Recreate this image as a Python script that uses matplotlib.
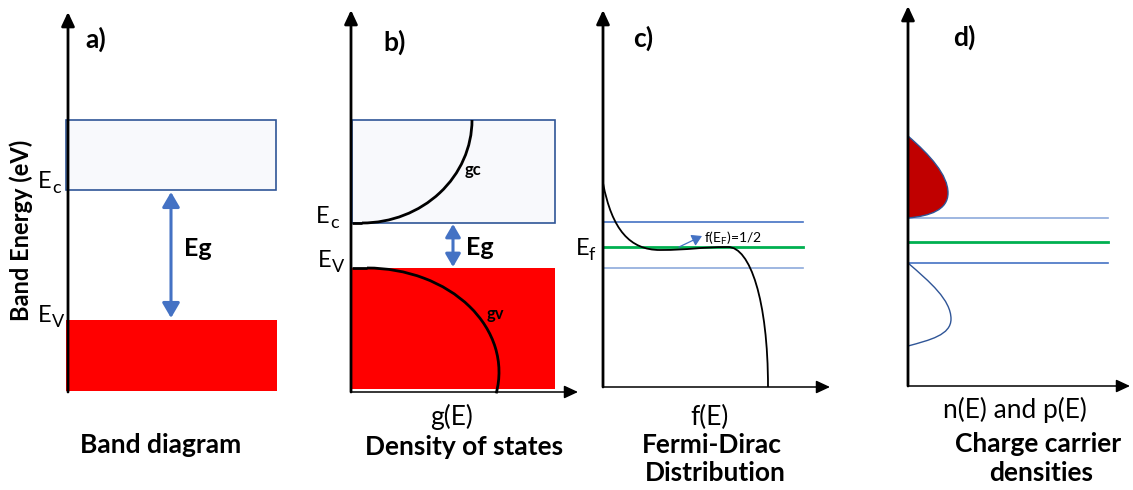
"""Band diagram / DOS / Fermi-Dirac / carrier density schematic."""

import matplotlib

matplotlib.use("Agg")
import matplotlib.pyplot as plt
from matplotlib.patches import Arc, FancyArrowPatch, PathPatch, Rectangle
from matplotlib.path import Path

plt.rcParams["font.family"] = ["Lato", "DejaVu Sans"]
plt.rcParams["mathtext.fontset"] = "custom"
plt.rcParams["mathtext.rm"] = "Lato"

W, H = 1133, 490

# energy axes of the four panels (x of vertical axis, bottom, arrow tip, x-axis end)
axis_x = [68, 351, 603, 908]
axis_bottom = [392, 392, 387, 386]
axis_top = [12, 10, 10, 6]
axis_right = [None, 578, 830, 1130]

# band edges (rows) per panel: conduction box top, Ec, Ev, valence bottom
cb_top = [120, 120]
ec = [190, 223]
ev = [320, 268]
vb_bottom = [391, 389]
band_right = [276, 555]

# panel c / d levels
c_levels = {"ec": 222, "ef": 247, "ev": 268}
d_levels = {"ec": 218, "ef": 242, "ev": 263}

# Fermi-Dirac curve, cubic bezier control points
fd_x = [603, 612, 630, 660, 690, 700, 728, 750, 768, 768]
fd_y = [183, 230, 250, 250, 250, 247, 247, 247, 300, 387]

# carrier lobes (bezier control points)
n_x = [908, 930, 948, 948, 948, 930, 908]
n_y = [136, 155, 175, 193, 210, 216, 218]
p_x = [908, 930, 951, 951, 951, 930, 908]
p_y = [263, 282, 300, 319, 335, 340, 346]

# level labels: (x right edge, baseline, main letter, subscript)
level_labels = [(52, 188, "E", "c"), (52, 322, "E", "V"), (330, 223, "E", "c"),
                (332, 267, "E", "V"), (589, 255, "E", "f")]

BLUE = "#4472c4"
DARKBLUE = "#2f5597"
LIGHTBLUE = "#8eaadb"
GREEN = "#00b050"


def arrow(ax, p0, p1, style, lw, color, scale=14, z=5):
    ax.add_patch(FancyArrowPatch(p0, p1, arrowstyle=style, mutation_scale=scale, lw=lw,
                                 color=color, shrinkA=0, shrinkB=0, zorder=z))


def bezier(xs, ys, closed=False):
    verts = list(zip(xs, ys))
    codes = [Path.MOVETO] + [Path.CURVE4] * (len(verts) - 1)
    if closed:
        verts.append(verts[0])
        codes.append(Path.CLOSEPOLY)
    return Path(verts, codes)


fig = plt.figure(figsize=(W / 100, H / 100), dpi=100)
ax = fig.add_axes([0, 0, 1, 1])
ax.set_xlim(0, W)
ax.set_ylim(H, 0)
ax.axis("off")

head = "-|>,head_length=0.6,head_width=0.28"
for i in range(4):
    x0 = axis_x[i]
    arrow(ax, (x0, axis_bottom[i]), (x0, axis_top[i]), head, 2.0, "black")
    if axis_right[i]:
        arrow(ax, (x0, axis_bottom[i]), (axis_right[i], axis_bottom[i]), head, 1.1, "black")

# panels a and b: bands
for i in range(2):
    x0 = axis_x[i] - 2 if i == 0 else axis_x[i] + 1
    ax.add_patch(Rectangle((x0, cb_top[i]), band_right[i] - x0, ec[i] - cb_top[i],
                           fc="#f8f9fc", ec=DARKBLUE, lw=1.2, zorder=2))
    ax.add_patch(Rectangle((x0, ev[i]), band_right[i] - x0 + (1 if i == 0 else 0),
                           vb_bottom[i] - ev[i], fc="red", ec="none", zorder=2))

dbl = "<|-|>,head_length=0.6,head_width=0.35"
arrow(ax, (171, ec[0] + 2), (171, ev[0] - 2), dbl, 2.2, BLUE, scale=15)
arrow(ax, (453, ec[1] + 1), (453, ev[1] - 1), dbl, 2.2, BLUE, scale=13)

# density of states curves
ax.plot([352, 362], [ec[1], ec[1]], color="black", lw=2, zorder=3, solid_capstyle="butt")
ax.add_patch(Arc((362, cb_top[1]), 2 * 110, 2 * (ec[1] - cb_top[1]), theta1=0, theta2=90,
                 color="black", lw=2, zorder=3))
ax.plot([352, 367], [ev[1], ev[1]], color="black", lw=2, zorder=3, solid_capstyle="butt")
ax.add_patch(Arc((367, 372), 2 * 132, 2 * (372 - ev[1]), theta1=270, theta2=369.4,
                 color="black", lw=2, zorder=3))

# panel c: levels + Fermi-Dirac
ax.plot([603, 803], [c_levels["ec"]] * 2, color=BLUE, lw=1.2, zorder=2)
ax.plot([603, 803], [c_levels["ef"]] * 2, color=GREEN, lw=2, zorder=2)
ax.plot([603, 803], [c_levels["ev"]] * 2, color=LIGHTBLUE, lw=1.2, zorder=2)
ax.add_patch(PathPatch(bezier(fd_x, fd_y), fc="none", ec="black", lw=1.3, zorder=3))
arrow(ax, (679, 247), (702, 236), "-|>,head_length=0.5,head_width=0.3", 0.9, BLUE, scale=12)

# panel d: levels + carrier densities
ax.plot([908, 1108], [d_levels["ec"]] * 2, color=LIGHTBLUE, lw=1.2, zorder=2)
ax.plot([908, 1108], [d_levels["ef"]] * 2, color=GREEN, lw=2, zorder=2)
ax.plot([908, 1108], [d_levels["ev"]] * 2, color=BLUE, lw=1.2, zorder=2)
ax.add_patch(PathPatch(bezier(n_x, n_y, closed=True), fc="#c00000", ec=DARKBLUE, lw=1.0, zorder=3))
ax.add_patch(PathPatch(bezier(p_x, p_y), fc="none", ec=DARKBLUE, lw=1.0, zorder=3))

# texts
bold = dict(fontweight="bold", ha="center", va="center", color="black")
reg = dict(ha="center", va="baseline", color="black")
ax.text(96, 39, "a)", fontsize=19, **bold)
ax.text(395, 42, "b)", fontsize=19, **bold)
ax.text(643, 38, "c)", fontsize=19, **bold)
ax.text(964, 37, "d)", fontsize=19, **bold)

ax.text(21, 230, "Band Energy (eV)", fontsize=17, rotation=90, **bold)
ax.text(198, 248, "Eg", fontsize=18, **bold)
ax.text(480, 247, "Eg", fontsize=18, **bold)
ax.text(473, 170, "gc", fontsize=12, **bold)
ax.text(495, 314, "gv", fontsize=12, **bold)

for x, y, main, s in level_labels:
    ax.text(x, y, main, fontsize=17, ha="right", va="baseline")
    ax.text(x, y + 5, s, fontsize=13, ha="left", va="baseline")
ax.text(704, 238, r"f(E$_\mathregular{F}$)=1/2", fontsize=10, ha="left", va="center")

ax.text(452, 425, "g(E)", fontsize=19, **reg)
ax.text(710, 425, "f(E)", fontsize=19, **reg)
ax.text(1015, 418, "n(E) and p(E)", fontsize=19, **reg)

ax.text(161, 445, "Band diagram", fontsize=19, **bold)
ax.text(464, 447, "Density of states", fontsize=19, **bold)
ax.text(712, 445, "Fermi-Dirac", fontsize=19, **bold)
ax.text(715, 473, "Distribution", fontsize=19, **bold)
ax.text(1038, 444, "Charge carrier", fontsize=19, **bold)
ax.text(1041, 473, "densities", fontsize=19, **bold)

fig.savefig("out.png", dpi=100)
